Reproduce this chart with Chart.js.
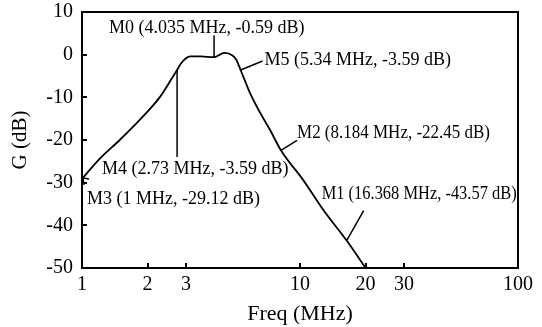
<!DOCTYPE html>
<html>
<head>
<meta charset="utf-8">
<script src="https://cdn.jsdelivr.net/npm/chart.js@4.4.1/dist/chart.umd.min.js"></script>
<style>
  html, body { margin: 0; padding: 0; background: #fff; }
  #wrap { width: 542px; height: 327px; position: relative; }
</style>
</head>
<body>
<div id="wrap"><canvas id="c"></canvas></div>
<script>
// Frequency response
const freqMHz = [1, 1.21, 1.49, 1.84, 2.28, 2.53, 2.73, 2.85, 3.13, 3.5, 4.035, 4.5, 4.9, 5.1, 5.34, 5.9, 6.56, 7.28, 8.184, 10.35, 12.8, 16.368, 20];
const gainDb  = [-29.12, -24.3, -20.0, -15.3, -9.9, -6.3, -3.59, -2.0, -0.4, -0.4, -0.59, 0.4, -0.2, -1.2, -3.59, -9.0, -13.6, -17.6, -22.45, -29.4, -36.4, -43.57, -50];

const xTicks = [1, 2, 3, 10, 20, 30, 100];
const yTicks = [10, 0, -10, -20, -30, -40, -50];

// markers
const markerNames = ['M0', 'M1', 'M2', 'M3', 'M4', 'M5'];
const markerFreq  = [4.035, 16.368, 8.184, 1, 2.73, 5.34];
const markerGain  = [-0.59, -43.57, -22.45, -29.12, -3.59, -3.59];

const SERIF = '"Liberation Serif", "Times New Roman", serif';

// leader line end (dx, dy from the point) and label left/middle (dx, dy) in px
const markerLayout = {
    M0: { line: [0, -22], text: [-105, -29], maxW: 205 },
    M1: { line: [17, -30], text: [-25, -46], maxW: 195 },
    M2: { line: [16, -10], text: [16, -17], maxW: 193 },
    M3: { line: null, text: [5, 20], maxW: 175 },
    M4: { line: [0, 87], text: [-75, 99], maxW: 190 },
    M5: { line: [22, -9], text: [24, -10], maxW: 192 }
};

function fmtLabel(i) {
    return markerNames[i] + ' (' + markerFreq[i] + ' MHz, ' + markerGain[i] + ' dB)';
}

const framePlugin = {
    id: 'frame',
    afterDraw(chart) {
        const ctx = chart.ctx;
        const a = chart.chartArea;
        const xs = chart.scales.x, ys = chart.scales.y;
        ctx.save();
        ctx.strokeStyle = '#000';
        ctx.lineWidth = 2;
        ctx.strokeRect(a.left, a.top, a.right - a.left, a.bottom - a.top);

        // inward ticks
        ctx.beginPath();
        xTicks.forEach(v => {
            const px = Math.round(xs.getPixelForValue(v));
            ctx.moveTo(px, a.bottom);
            ctx.lineTo(px, a.bottom - 5);
        });
        yTicks.forEach(v => {
            const py = Math.round(ys.getPixelForValue(v));
            ctx.moveTo(a.left, py);
            ctx.lineTo(a.left + 5, py);
        });
        ctx.stroke();

        // marker annotations
        ctx.lineWidth = 1.5;
        ctx.fillStyle = '#000';
        ctx.font = '18px ' + SERIF;
        ctx.textBaseline = 'middle';
        ctx.textAlign = 'left';
        markerNames.forEach((name, i) => {
            const px = xs.getPixelForValue(markerFreq[i]);
            const py = ys.getPixelForValue(markerGain[i]);
            const lay = markerLayout[name];
            if (lay.line) {
                ctx.beginPath();
                ctx.moveTo(px, py);
                ctx.lineTo(px + lay.line[0], py + lay.line[1]);
                ctx.stroke();
            } else {
                // small arrow head pointing at the marker
                ctx.beginPath();
                ctx.moveTo(px + 7, py);
                ctx.lineTo(px + 1, py - 1);
                ctx.lineTo(px + 2, py + 6);
                ctx.stroke();
            }
            ctx.fillText(fmtLabel(i), px + lay.text[0], py + lay.text[1], lay.maxW);
        });
        ctx.restore();
    }
};

new Chart(document.getElementById('c'), {
    type: 'scatter',
    data: {
        datasets: [{
            data: freqMHz.map((f, i) => ({ x: f, y: gainDb[i] })),
            showLine: true,
            borderColor: '#000',
            borderWidth: 1.8,
            pointRadius: 0,
            cubicInterpolationMode: 'monotone',
            fill: false
        }]
    },
    options: {
        responsive: true,
        maintainAspectRatio: false,
        animation: false,
        layout: { padding: { top: 12, right: 24, left: 0, bottom: 0 } },
        plugins: {
            legend: { display: false },
            tooltip: { enabled: false }
        },
        scales: {
            x: {
                type: 'logarithmic',
                min: 1,
                max: 100,
                afterBuildTicks: s => { s.ticks = xTicks.map(v => ({ value: v })); },
                afterFit: s => { s.height = 59; s.paddingLeft = 0; s.paddingRight = 0; },
                grid: { display: false, drawTicks: false },
                border: { display: false },
                ticks: {
                    color: '#000',
                    padding: 5,
                    maxRotation: 0,
                    autoSkip: false,
                    font: { family: SERIF, size: 20 },
                    callback: v => String(v)
                },
                title: {
                    display: true,
                    text: 'Freq (MHz)',
                    color: '#000',
                    padding: { top: 0, bottom: 0 },
                    font: { family: SERIF, size: 22 }
                }
            },
            y: {
                min: -50,
                max: 10,
                afterBuildTicks: s => { s.ticks = yTicks.map(v => ({ value: v })); },
                afterFit: s => { s.width = 82; s.paddingTop = 0; s.paddingBottom = 0; },
                grid: { display: false, drawTicks: false },
                border: { display: false },
                ticks: {
                    color: '#000',
                    padding: 9,
                    font: { family: SERIF, size: 20 }
                },
                title: {
                    display: true,
                    text: 'G (dB)',
                    color: '#000',
                    padding: { top: 8, bottom: 0 },
                    font: { family: SERIF, size: 21 }
                }
            }
        }
    },
    plugins: [framePlugin]
});
</script>
</body>
</html>
